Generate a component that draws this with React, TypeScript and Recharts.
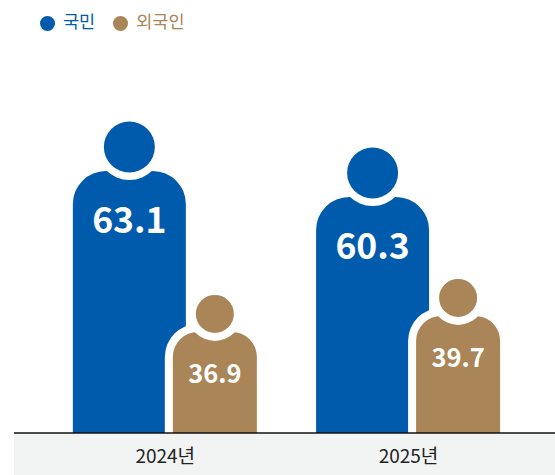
import React from 'react';
import { BarChart, Bar, XAxis, YAxis, Legend, LabelList } from 'recharts';

const years = ['2024년', '2025년'];
const nationals = [63.1, 60.3];
const foreigners = [36.9, 39.7];

const data = years.map((year, i) => ({ year, nationals: nationals[i], foreigners: foreigners[i] }));

const BLUE = '#005bac';
const TAN = '#a98557';
const FONT = '"Noto Sans CJK KR", "Noto Sans", sans-serif';

// the picture is not drawn to one scale, so each series has its own hidden axis
const nationalsDomain = [34.885, 81.515];
const foreignersDomain = [19.2, 95];

const makePerson = (bodyWidth: number, radius: number, headR: number, headRise: number, notchR: number, color: string, halo: number) => (props: any) => {
  const { x, y, width, height } = props;
  const cx = x + width / 2;
  const left = cx - bodyWidth / 2;
  const headY = y - headRise;
  const body = (l: number, t: number, w: number, r: number) =>
    `M${l},${y + height} V${t + r} A${r},${r} 0 0 1 ${l + r},${t} H${l + w - r} A${r},${r} 0 0 1 ${l + w},${t + r} V${y + height} Z`;
  return (
    <g>
      {halo > 0 && <path d={body(left - halo, y - halo, bodyWidth + halo * 2, radius + halo)} fill="#fff" />}
      <path d={body(left, y, bodyWidth, radius)} fill={color} />
      <circle cx={cx} cy={headY} r={notchR} fill="#fff" />
      <circle cx={cx} cy={headY} r={headR} fill={color} />
    </g>
  );
};

const NationalShape = makePerson(113, 33, 25.5, 24, 33, BLUE, 0);
const ForeignerShape = makePerson(84, 25, 19, 18, 27, TAN, 8);

const makeLabel = (fontSize: number, drop: number) => (props: any) => {
  const { x, y, width, value } = props;
  return (
    <text x={x + width / 2} y={y + drop} textAnchor="middle" dominantBaseline="central" fill="#fff" fontSize={fontSize} fontWeight={700} fontFamily={FONT}>
      {value}
    </text>
  );
};

const legendText = (value: string) => <span style={{ marginLeft: 4, marginRight: 8 }}>{value}</span>;

const App = () => {
  return (
    <div style={{ position: 'absolute', left: 0, top: 0, width: 555, height: 475, overflow: 'hidden', background: '#fff' }}>
      <div style={{ position: 'absolute', left: 14, top: 434, width: 541, height: 41, background: '#f2f4f4' }} />
      <BarChart
        width={555}
        height={475}
        data={data}
        margin={{ top: 0, right: 0, left: 14, bottom: 0 }}
        barSize={85.5}
        barGap={0}
        style={{ position: 'absolute', left: 0, top: 0 }}
      >
        <XAxis
          dataKey="year"
          height={42}
          padding={{ left: 36.6, right: 17.9 }}
          axisLine={{ stroke: '#111', strokeWidth: 1.5 }}
          tickLine={false}
          tick={{ fill: '#222', fontSize: 19, fontFamily: FONT, dx: -7, dy: 9 }}
        />
        <YAxis yAxisId="nationals" hide domain={nationalsDomain} />
        <YAxis yAxisId="foreigners" hide domain={foreignersDomain} />
        <Legend
          verticalAlign="middle"
          align="center"
          iconType="circle"
          iconSize={15}
          formatter={legendText}
          wrapperStyle={{ top: 8, left: 40, fontFamily: FONT, fontSize: 17.5, width: 'auto' }}
        />
        <Bar yAxisId="nationals" dataKey="nationals" name="국민" fill={BLUE} shape={NationalShape} isAnimationActive={false}>
          <LabelList dataKey="nationals" content={makeLabel(35.5, 47)} />
        </Bar>
        <Bar yAxisId="foreigners" dataKey="foreigners" name="외국인" fill={TAN} shape={ForeignerShape} isAnimationActive={false}>
          <LabelList dataKey="foreigners" content={makeLabel(25.5, 40)} />
        </Bar>
      </BarChart>
    </div>
  );
};

export default App;
